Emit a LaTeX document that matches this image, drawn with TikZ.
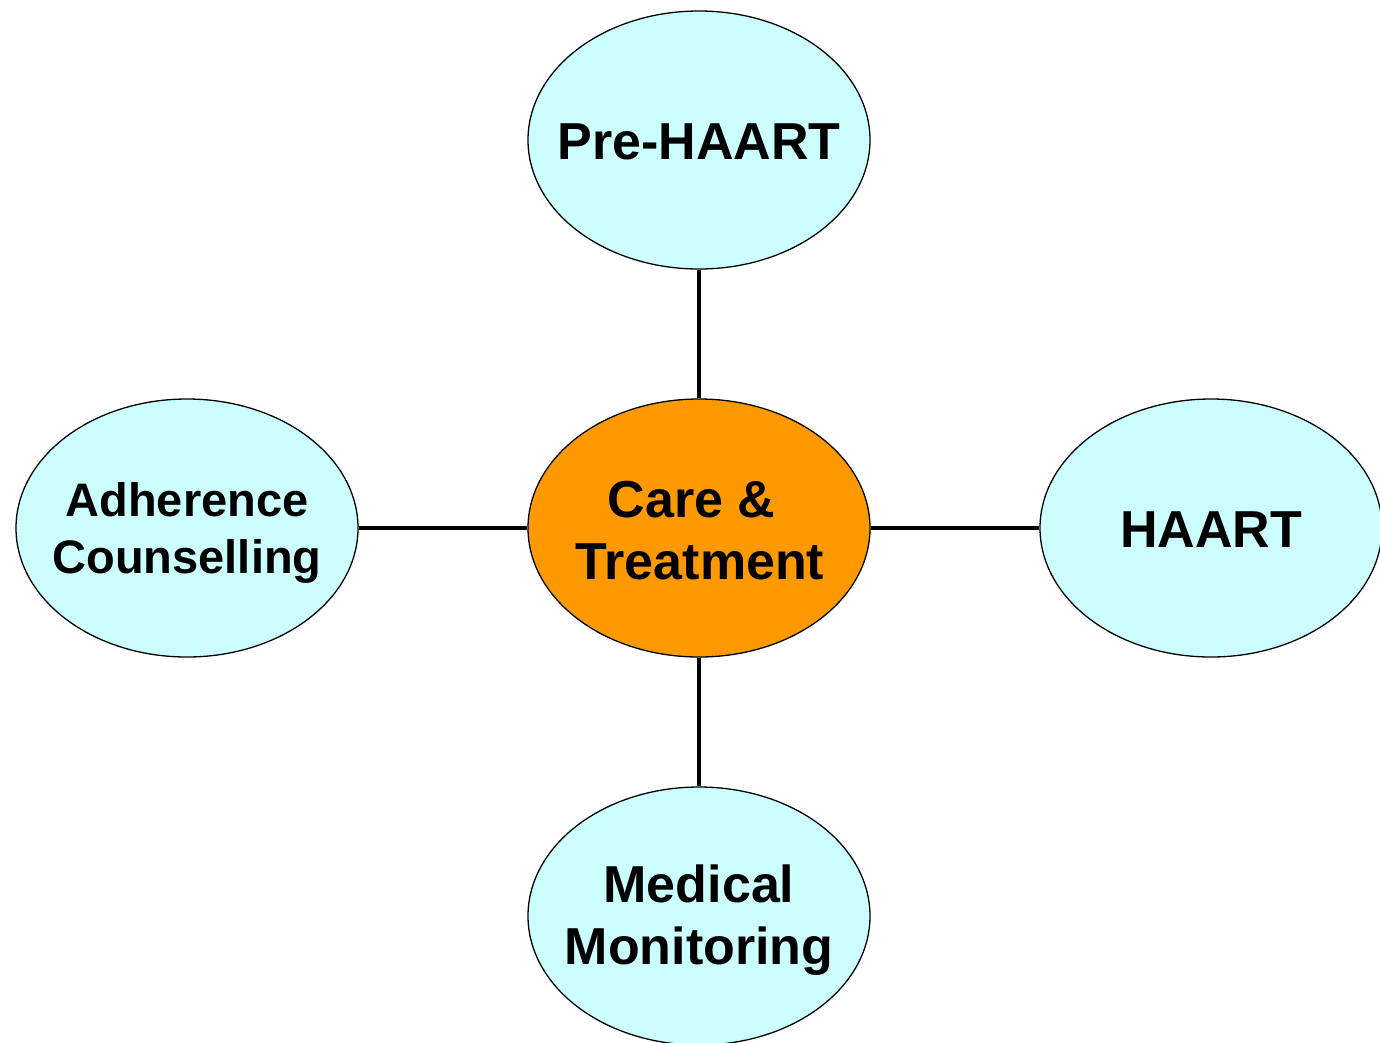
\documentclass[tikz,border=0pt]{standalone}
\usepackage{fontspec}
\setmainfont{Liberation Sans}
\usetikzlibrary{shapes.geometric}
\begin{document}
\begin{tikzpicture}[x=1pt,y=-1pt,
  bub/.style={ellipse,draw=black,line width=1.3pt,minimum width=342pt,minimum height=258pt,inner sep=0pt,fill=cyanfill},
  txt/.style={font=\bfseries\fontsize{52}{62}\selectfont,align=center,inner sep=0pt},
  small/.style={font=\bfseries\fontsize{47}{57}\selectfont},
  link/.style={line width=4.5pt,draw=black}]
\definecolor{cyanfill}{HTML}{CCFFFF}
\definecolor{orangefill}{HTML}{FF9900}
\useasboundingbox (0,0) rectangle (1380,1042);
\clip (0,0) rectangle (1380,1042);
\node[bub] (top) at (699,140) {};
\node[bub,fill=orangefill] (ctr) at (699,528) {};
\node[bub] (left) at (187,528) {};
\node[bub] (right) at (1211,528) {};
\node[bub] (bot) at (699,916) {};
\draw[link] (top) -- (ctr);
\draw[link] (ctr) -- (bot);
\draw[link] (left) -- (ctr);
\draw[link] (ctr) -- (right);
\node[txt] (ttop) at (699,142) {Pre-HAART};
\node[txt] (tctr) at (700,531) {Care \&\rule{17pt}{0pt}\\Treatment};
\node[txt,small] (tleft) at (187,533) {Adherence\\Counselling};
\node[txt] (tright) at (1211,530) {HAART};
\node[txt] (tbot) at (699,920) {Medical\\Monitoring};
\end{tikzpicture}
\end{document}
